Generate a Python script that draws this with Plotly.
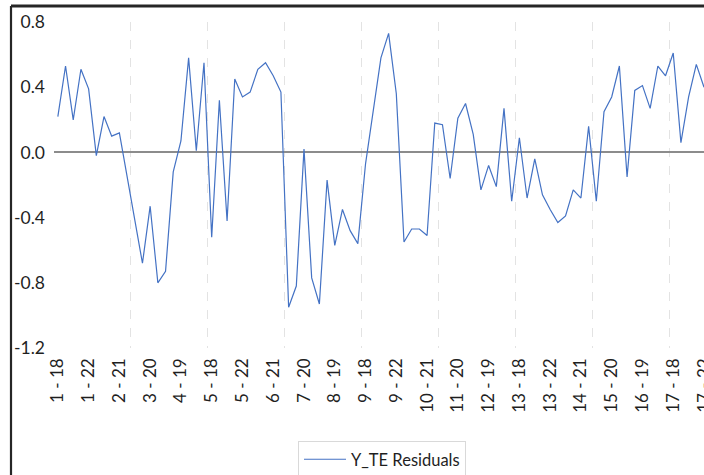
import plotly.graph_objects as go

# ---- data ----
ids = list(range(1, 18))
years = [18, 19, 20, 21, 22]
categories = [f"{i} - {y}" for i in ids for y in years]

residuals = [
    0.22, 0.53, 0.20, 0.51, 0.39,
    -0.02, 0.22, 0.10, 0.12, -0.14,
    -0.41, -0.68, -0.33, -0.80, -0.73,
    -0.12, 0.07, 0.58, 0.01, 0.55,
    -0.52, 0.32, -0.42, 0.45, 0.34,
    0.37, 0.51, 0.55, 0.47, 0.37,
    -0.95, -0.82, 0.02, -0.77, -0.93,
    -0.17, -0.57, -0.35, -0.48, -0.56,
    -0.07, 0.27, 0.58, 0.73, 0.36,
    -0.55, -0.47, -0.47, -0.51, 0.18,
    0.17, -0.16, 0.21, 0.30, 0.11,
    -0.23, -0.08, -0.21, 0.27, -0.30,
    0.09, -0.28, -0.04, -0.26, -0.35,
    -0.43, -0.39, -0.23, -0.28, 0.16,
    -0.30, 0.25, 0.34, 0.53, -0.15,
    0.38, 0.41, 0.27, 0.53, 0.47,
    0.61, 0.06, 0.34, 0.54, 0.40,
]

y_ticks = [0.8, 0.4, 0.0, -0.4, -0.8, -1.2]
series_name = "Y_TE Residuals"

# ---- figure ----
W, H = 704, 475
ML, MT, MB, MR = 54, 22, 127, 0
pw, ph = W - ML - MR, H - MT - MB

x_idx = list(range(len(categories)))
tick_idx = x_idx[::4]
tick_txt = [categories[i] for i in tick_idx]

fig = go.Figure()
fig.add_trace(go.Scatter(
    x=x_idx, y=residuals, mode="lines", name=series_name,
    line=dict(color="#4472C4", width=1.2),
    showlegend=True,
))

font_family = "Lato, Calibri, 'Open Sans', sans-serif"

fig.update_layout(
    width=W, height=H,
    margin=dict(l=ML, r=MR, t=MT, b=MB, pad=0, autoexpand=False),
    paper_bgcolor="white", plot_bgcolor="white",
    font=dict(family=font_family, color="#1f1f1f"),
    showlegend=True,
    legend=dict(
        x=(298 - ML) / pw, xanchor="left",
        y=(H - MB - 441) / ph, yanchor="top",
        bordercolor="#d9d9d9", borderwidth=1, bgcolor="white",
        font=dict(size=16.5, family=font_family, color="#1f1f1f"),
        orientation="h", itemwidth=42,
    ),
)

fig.update_xaxes(
    range=[-0.5, 84.0], automargin=False,
    tickmode="array", tickvals=tick_idx, ticktext=tick_txt,
    tickangle=-90, tickfont=dict(size=17, family=font_family, color="#1f1f1f"),
    showgrid=False, showline=False, zeroline=False, ticks="",
    ticklabelstandoff=6, ticklabeloverflow="allow",
    minor=dict(tickmode="linear", tick0=9.5, dtick=10, showgrid=True,
               gridcolor="#e3e3e3", griddash="dash", gridwidth=1, ticks=""),
)
fig.update_yaxes(
    range=[-1.2, 0.8], automargin=False,
    tickmode="array", tickvals=y_ticks, ticktext=[f"{v:.1f}" for v in y_ticks],
    tickfont=dict(size=17.5, family=font_family, color="#1f1f1f"),
    showgrid=False, showline=False, ticks="",
    zeroline=True, zerolinecolor="#8c8c8c", zerolinewidth=1.5,
    ticklabelstandoff=8,
)

# outer chart frame (top and left edges; the rest lies outside the view)
frame_left = (11 - ML) / pw
frame_top = 1 + (MT - 6) / ph
fig.add_shape(type="line", xref="paper", yref="paper",
              x0=frame_left, x1=1.0, y0=frame_top, y1=frame_top,
              line=dict(color="#262626", width=3), layer="above")
fig.add_shape(type="line", xref="paper", yref="paper",
              x0=frame_left, x1=frame_left, y0=frame_top, y1=-0.4,
              line=dict(color="#262626", width=2.2), layer="above")

fig.write_html(
    "out.html",
    config={"displayModeBar": False},
    post_script="document.body.style.margin='0';document.body.style.overflow='hidden';",
)
